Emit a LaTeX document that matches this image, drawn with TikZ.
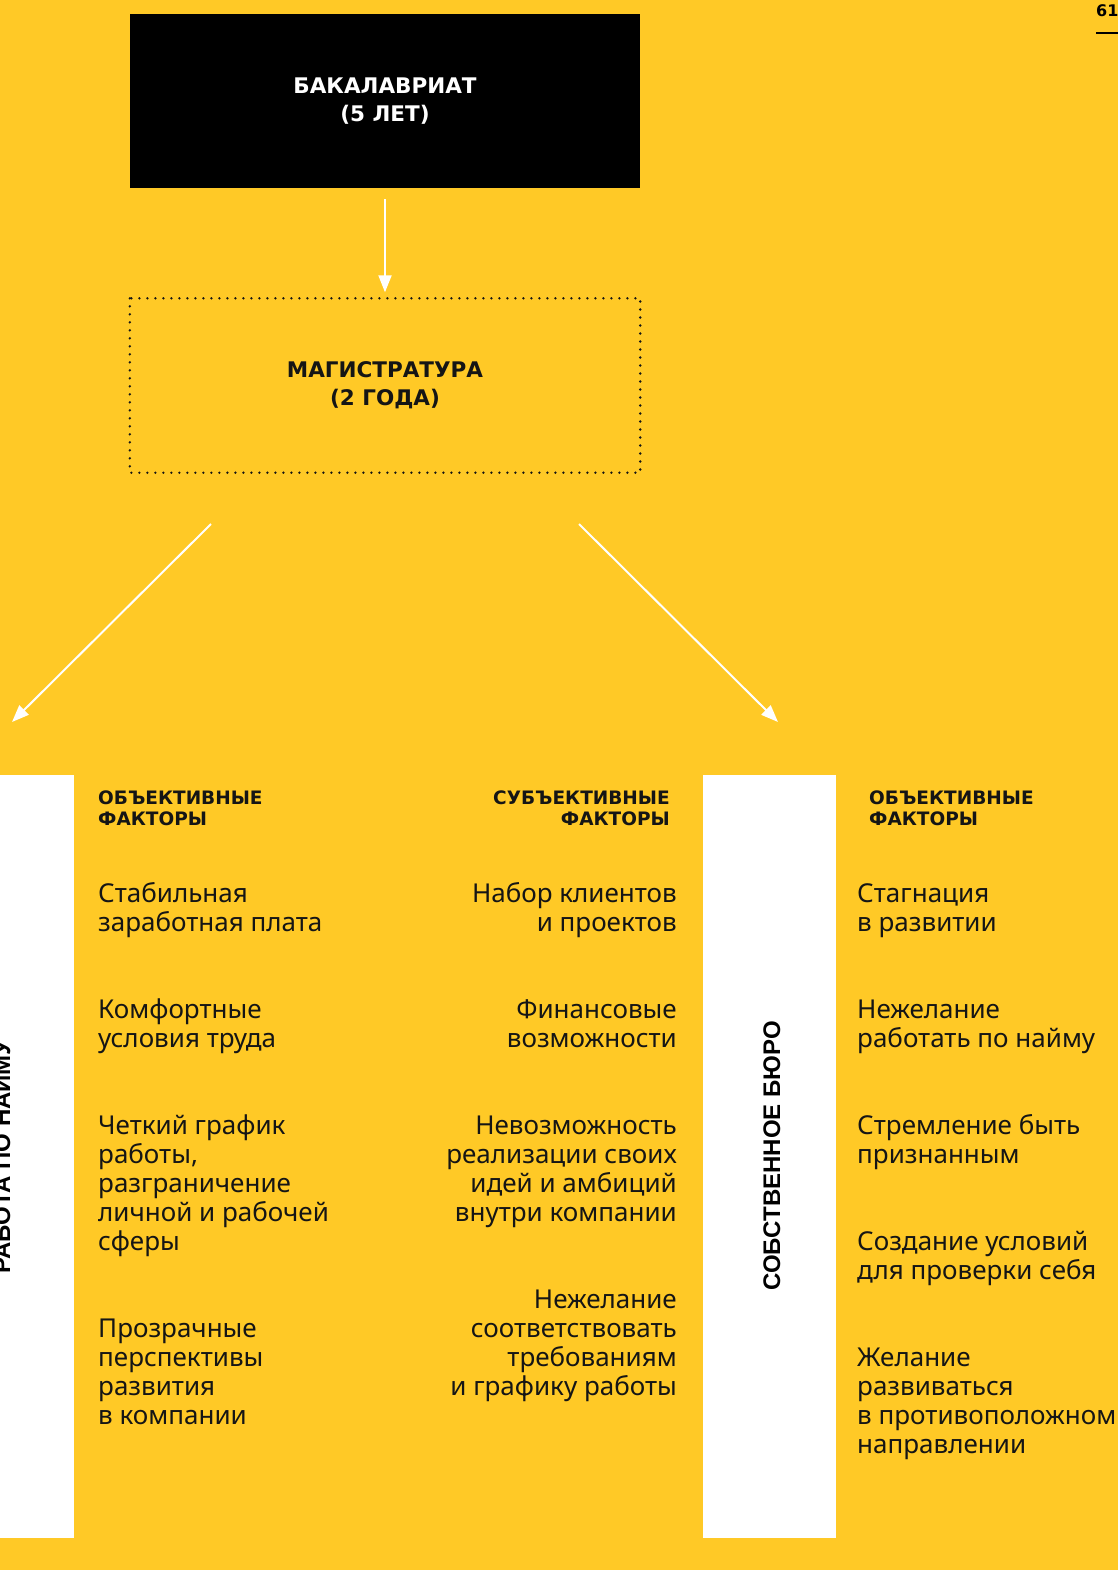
\documentclass[tikz,border=0pt]{standalone}
\usepackage{fontspec}
\setmainfont{Noto Sans}
\newfontfamily\barfont{Liberation Sans}
\newfontfamily\boldfont{DejaVu Sans}
\usetikzlibrary{arrows.meta,positioning}
\definecolor{bgyellow}{HTML}{FFC926}
\definecolor{ink}{HTML}{151515}

\tikzset{
  item/.style={font=\fontsize{26}{29}\selectfont, text=ink},
  head/.style={font=\boldfont\fontsize{18.5}{21}\selectfont\bfseries, text=ink},
  stage/.style={font=\boldfont\fontsize{21.5}{28}\selectfont\bfseries, align=center,
    minimum width=510pt, minimum height=174pt},
  bar/.style={fill=white, anchor=north west},
  barlabel/.style={font=\barfont\fontsize{24}{24}\selectfont\bfseries, text=black,
    rotate=90, anchor=base},
  arr/.style={draw=white, line width=2pt, -{Triangle[length=17pt,width=13pt]}}
}

\begin{document}
\begin{tikzpicture}[x=1pt,y=-1pt,every node/.style={inner sep=0pt}]
  \fill[bgyellow] (0,0) rectangle (1118,1570);
  \useasboundingbox (0,0) rectangle (1118,1570);

  % page number
  \node[font=\boldfont\fontsize{16}{16}\selectfont\bfseries, anchor=base west] (page) at (1096,17) {61};
  \draw[line width=2pt] (page.west |- 0,33) -- (1118,33);

  % stages
  \node[stage, fill=black, text=white] (bach) at (385,101) {БАКАЛАВРИАТ\\(5 ЛЕТ)};
  \node[stage, text=ink] (mag) at (385,385.5) {МАГИСТРАТУРА\\(2 ГОДА)};
  \draw[ink, line width=2.6pt, line cap=round, dash pattern=on 0pt off 8pt]
    (mag.north west) rectangle (mag.south east);
  \draw[arr] ([yshift=-11pt]bach.south) -- ([yshift=6pt]mag.north);

  \coordinate (lstart) at (211,524);
  \coordinate (lend) at (12,722);
  \coordinate (rstart) at (579,524);
  \coordinate (rend) at (778,722);
  \draw[arr] (lstart) -- (lend);
  \draw[arr] (rstart) -- (rend);

  % white bars
  \node[bar, minimum width=74pt, minimum height=763pt] (hire) at (0,775) {};
  \node[bar, minimum width=133pt, minimum height=763pt] (own) at (703,775) {};
  \node[barlabel] (hirelabel) at (10,1157) {РАБОТА ПО НАЙМУ};
  \node[barlabel] (ownlabel) at (780,1156) {СОБСТВЕННОЕ БЮРО};

  % headers (base = last line)
  \node[head, anchor=base west, align=left] (objhead) at (98,825) {ОБЪЕКТИВНЫЕ\\ФАКТОРЫ};
  \node[head, anchor=base east, align=right] (subhead) at (670,825) {СУБЪЕКТИВНЫЕ\\ФАКТОРЫ};
  \node[head, anchor=base west, align=left] (ownhead) at (869,825) {ОБЪЕКТИВНЫЕ\\ФАКТОРЫ};

  % columns (y = baseline of the last line)
  \foreach \y/\t [count=\i] in {931/{Стабильная\\заработная плата},
      1047/{Комфортные\\условия труда},
      1250/{Четкий график\\работы,\\разграничение\\личной и рабочей\\сферы},
      1424/{Прозрачные\\перспективы\\развития\\в компании}}
    \node[item, anchor=base west, align=left] (obj\i) at (98,\y) {\t};

  \foreach \y/\t [count=\i] in {931/{Набор клиентов\\и проектов},
      1047/{Финансовые\\возможности},
      1221/{Невозможность\\реализации своих\\идей и амбиций\\внутри компании},
      1395/{Нежелание\\соответствовать\\требованиям\\и графику работы}}
    \node[item, anchor=base east, align=right] (sub\i) at (677,\y) {\t};

  \foreach \y/\t [count=\i] in {931/{Стагнация\\в развитии},
      1047/{Нежелание\\работать по найму},
      1163/{Стремление быть\\признанным},
      1279/{Создание условий\\для проверки себя},
      1453/{Желание\\развиваться\\в противоположном\\направлении}}
    \node[item, anchor=base west, align=left] (own\i) at (857,\y) {\t};
\end{tikzpicture}
\end{document}
